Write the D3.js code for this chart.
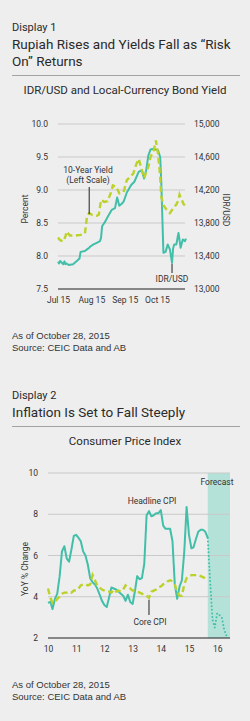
<!DOCTYPE html>
<html lang="en">
  <head>
    <meta charset="UTF-8" />
    <title>Rupiah and Inflation</title>
    <style>
      body {
        margin: 0;
        padding: 0;
        background-color: #eeeeee;
      }
      svg {
        display: block;
      }
      .head {
        font-family: Roboto, sans-serif;
        fill: #2a2a2a;
      }
      .axis text {
        font-family: Roboto, sans-serif;
        font-size: 8.5px;
        fill: #333;
      }
      .label {
        font-family: Roboto, sans-serif;
        font-size: 8.5px;
        fill: #333;
      }
      .note {
        font-family: "Liberation Sans", Arial, sans-serif;
        font-size: 9.5px;
        fill: #333;
      }
    </style>
  </head>
  <body>
    <svg id="page"></svg>

    <script src="https://d3js.org/d3.v7.min.js"></script>
    <script>
      // Display 1 data: 10-year yield (%) and IDR/USD
      const yieldPoints = [
        ["2015-07-01", 8.28], ["2015-07-03", 8.24], ["2015-07-06", 8.22],
        ["2015-07-08", 8.3], ["2015-07-09", 8.37], ["2015-07-12", 8.31],
        ["2015-07-17", 8.31], ["2015-07-22", 8.32], ["2015-07-26", 8.34],
        ["2015-07-28", 8.6], ["2015-07-30", 8.65], ["2015-08-02", 8.62],
        ["2015-08-06", 8.61], ["2015-08-08", 8.63], ["2015-08-10", 8.85],
        ["2015-08-13", 8.82], ["2015-08-16", 8.83], ["2015-08-19", 8.95],
        ["2015-08-21", 9.07], ["2015-08-24", 9.05], ["2015-08-27", 8.95],
        ["2015-08-31", 8.97], ["2015-09-03", 9.15], ["2015-09-06", 9.2],
        ["2015-09-09", 9.25], ["2015-09-12", 9.4], ["2015-09-14", 9.47],
        ["2015-09-17", 9.3], ["2015-09-19", 9.18], ["2015-09-23", 9.35],
        ["2015-09-25", 9.5], ["2015-09-28", 9.6], ["2015-09-30", 9.75],
        ["2015-10-02", 9.55], ["2015-10-04", 9.2], ["2015-10-05", 8.9],
        ["2015-10-07", 8.77], ["2015-10-10", 8.7], ["2015-10-13", 8.65],
        ["2015-10-16", 8.72], ["2015-10-19", 8.78], ["2015-10-21", 8.85],
        ["2015-10-22", 8.93], ["2015-10-24", 8.85], ["2015-10-26", 8.78],
        ["2015-10-28", 8.75]
      ];

      const idrPoints = [
        ["2015-07-01", 13330], ["2015-07-02", 13310], ["2015-07-03", 13340],
        ["2015-07-06", 13300], ["2015-07-07", 13335], ["2015-07-08", 13300],
        ["2015-07-09", 13310], ["2015-07-11", 13290], ["2015-07-15", 13300],
        ["2015-07-19", 13345], ["2015-07-21", 13370], ["2015-07-22", 13450],
        ["2015-07-26", 13460], ["2015-07-28", 13480], ["2015-07-30", 13500],
        ["2015-07-31", 13515], ["2015-08-03", 13540], ["2015-08-06", 13560],
        ["2015-08-09", 13580], ["2015-08-10", 13620], ["2015-08-11", 13760],
        ["2015-08-14", 13820], ["2015-08-16", 13870], ["2015-08-20", 13960],
        ["2015-08-23", 13980], ["2015-08-25", 14110], ["2015-08-27", 14010],
        ["2015-08-29", 14030], ["2015-08-31", 14060], ["2015-09-03", 14170],
        ["2015-09-07", 14260], ["2015-09-10", 14300], ["2015-09-14", 14420],
        ["2015-09-17", 14440], ["2015-09-19", 14340], ["2015-09-21", 14440],
        ["2015-09-23", 14620], ["2015-09-25", 14690], ["2015-09-28", 14700],
        ["2015-09-30", 14690], ["2015-10-02", 14680], ["2015-10-04", 14600],
        ["2015-10-05", 14300], ["2015-10-06", 13870], ["2015-10-07", 13440],
        ["2015-10-09", 13450], ["2015-10-11", 13540], ["2015-10-13", 13480],
        ["2015-10-15", 13320], ["2015-10-16", 13490], ["2015-10-17", 13540],
        ["2015-10-19", 13540], ["2015-10-21", 13680], ["2015-10-23", 13500],
        ["2015-10-25", 13600], ["2015-10-27", 13580], ["2015-10-28", 13610]
      ];

      const yieldTicks = [7.5, 8.0, 8.5, 9.0, 9.5, 10.0];
      const idrTicks = [13000, 13400, 13800, 14200, 14600, 15000];
      const monthTicks = ["2015-07-01", "2015-08-01", "2015-09-01", "2015-10-01"];

      // Display 2 data: monthly YoY CPI from Jan 2010 to Sep 2015
      const cpiStart = "2010-01-01";
      const headlineCpi = [
        3.7, 3.75, 3.4, 3.9, 4.15, 5.0, 6.2, 6.45, 5.85, 5.7, 6.3, 6.95,
        7.0, 6.85, 6.7, 6.2, 6.0, 5.55, 4.9, 4.7, 4.6, 4.4, 4.1, 3.8,
        3.6, 3.5, 3.95, 4.45, 4.4, 4.35, 4.25, 4.15, 4.05, 3.8, 4.1, 3.75,
        3.65, 4.3, 5.0, 4.85, 4.9, 5.6, 7.95, 8.15, 7.9, 7.95, 8.05, 8.05,
        8.2, 7.45, 7.3, 7.3, 7.3, 6.7, 4.6, 3.9, 4.5, 4.8, 6.2, 8.35,
        7.0, 6.35, 6.4, 6.8, 7.15, 7.25, 7.25, 7.15, 6.85
      ];
      const coreCpi = [
        4.4, 3.95, 3.7, 3.75, 3.9, 4.0, 4.15, 4.2, 4.2, 4.25, 4.2, 4.3,
        4.3, 4.4, 4.55, 4.6, 4.6, 4.55, 4.6, 5.05, 4.8, 4.55, 4.45, 4.35,
        4.3, 4.25, 4.25, 4.2, 4.35, 4.25, 4.3, 4.25, 4.35, 4.55, 4.45, 4.4,
        4.3, 4.3, 4.25, 4.2, 4.15, 4.1, 4.05, 3.95, 4.25, 4.3, 4.35, 4.45,
        4.5, 4.6, 4.65, 4.75, 4.8, 4.75, 4.6, 4.2, 4.05, 4.05, 4.6, 4.9,
        5.0, 5.05, 5.05, 5.05, 5.05, 5.0, 4.95, 4.9, 5.0
      ];
      // forecast path, monthly from Sep 2015
      const forecastStart = "2015-09-01";
      const forecastCpi = [6.85, 4.8, 2.9, 2.5, 3.2, 3.1, 3.0, 2.4, 2.1];
      const cpiTicks = [2, 4, 6, 8, 10];
      const yearTicks = [2010, 2011, 2012, 2013, 2014, 2015, 2016];

      const teal = "#41bfa9";
      const lime = "#bdd12b";
      const grid = "#c9c9c9";

      const parse = d3.timeParse("%Y-%m-%d");

      const svg = d3.select("#page").attr("width", 250).attr("height", 721);

      function header(top, label, titleLines, subtitle) {
        svg.append("text").attr("class", "head")
          .attr("x", 12).attr("y", top)
          .style("font-size", "11px")
          .text(label);
        titleLines.forEach(function (t, i) {
          svg.append("text").attr("class", "head")
            .attr("x", 12).attr("y", top + 18 + i * 17)
            .style("font-size", "13.5px")
            .text(t);
        });
        const lineY = top + 18 + (titleLines.length - 1) * 17 + 9.5;
        svg.append("line")
          .attr("x1", 12).attr("x2", 240)
          .attr("y1", lineY).attr("y2", lineY)
          .attr("stroke", "#a3a3a3").attr("stroke-width", 1);
        svg.append("text").attr("class", "head")
          .attr("x", 125).attr("y", lineY + 18)
          .attr("text-anchor", "middle")
          .style("font-size", "11.5px")
          .text(subtitle);
      }

      function footer(top) {
        svg.append("text").attr("class", "note")
          .attr("x", 12).attr("y", top).text("As of October 28, 2015");
        svg.append("text").attr("class", "note")
          .attr("x", 12).attr("y", top + 12).text("Source: CEIC Data and AB");
      }

      // ---------- Display 1 ----------
      header(31, "Display 1", ["Rupiah Rises and Yields Fall as \u201cRisk", "On\u201d Returns"],
        "IDR/USD and Local-Currency Bond Yield");

      const x1 = d3.scaleTime()
        .domain([parse("2015-07-01"), parse("2015-10-28")])
        .range([58, 186]);
      const yL = d3.scaleLinear().domain([7.5, 10]).range([289, 124]);
      const yR = d3.scaleLinear().domain([13000, 15000]).range([289, 124]);

      const g1 = svg.append("g");

      g1.selectAll(".grid")
        .data(yieldTicks.slice(1))
        .enter().append("line")
        .attr("x1", 58).attr("x2", 185)
        .attr("y1", (d) => yL(d)).attr("y2", (d) => yL(d))
        .attr("stroke", grid).attr("stroke-width", 1);

      g1.append("line")
        .attr("x1", 58).attr("x2", 185)
        .attr("y1", yL(7.5)).attr("y2", yL(7.5))
        .attr("stroke", "#1e1e1e").attr("stroke-width", 1.2);

      const leftAxis = g1.append("g").attr("class", "axis")
        .attr("transform", "translate(58,0)")
        .call(d3.axisLeft(yL).tickValues(yieldTicks).tickFormat(d3.format(".1f")).tickSize(0).tickPadding(10));
      leftAxis.select(".domain").remove();

      const rightAxis = g1.append("g").attr("class", "axis")
        .attr("transform", "translate(185,0)")
        .call(d3.axisRight(yR).tickValues(idrTicks).tickFormat(d3.format(",")).tickSize(0).tickPadding(9));
      rightAxis.select(".domain").remove();

      const bottom1 = g1.append("g").attr("class", "axis")
        .attr("transform", "translate(0,289)")
        .call(d3.axisBottom(x1).tickValues(monthTicks.map(parse)).tickFormat(d3.timeFormat("%b %y")).tickSize(0).tickPadding(8));
      bottom1.select(".domain").remove();

      g1.append("text").attr("class", "label")
        .attr("transform", "translate(28,209) rotate(-90)")
        .attr("text-anchor", "middle").text("Percent");
      g1.append("text").attr("class", "label")
        .attr("transform", "translate(223,210) rotate(90)")
        .attr("text-anchor", "middle").text("IDR/USD");

      const idrLine = d3.line().x((d) => x1(parse(d[0]))).y((d) => yR(d[1]));
      const yieldLine = d3.line().x((d) => x1(parse(d[0]))).y((d) => yL(d[1]));

      g1.append("path").datum(idrPoints)
        .attr("d", idrLine)
        .attr("fill", "none").attr("stroke", teal)
        .attr("stroke-width", 2).attr("stroke-linejoin", "round");

      g1.append("path").datum(yieldPoints)
        .attr("d", yieldLine)
        .attr("fill", "none").attr("stroke", lime)
        .attr("stroke-width", 2.4).attr("stroke-dasharray", "6,3.5");

      // yield callout
      const yAnchor = yieldPoints[10];
      g1.append("line")
        .attr("x1", x1(parse(yAnchor[0]))).attr("x2", x1(parse(yAnchor[0])))
        .attr("y1", 187).attr("y2", yL(yAnchor[1]) + 1)
        .attr("stroke", "#222").attr("stroke-width", 1);
      g1.append("text").attr("class", "label")
        .attr("x", 88).attr("y", 173).attr("text-anchor", "middle").text("10-Year Yield");
      g1.append("text").attr("class", "label")
        .attr("x", 88).attr("y", 183).attr("text-anchor", "middle").text("(Left Scale)");

      // IDR callout
      const iAnchor = idrPoints[48];
      g1.append("line")
        .attr("x1", x1(parse(iAnchor[0]))).attr("x2", x1(parse(iAnchor[0])))
        .attr("y1", yR(iAnchor[1]) + 1).attr("y2", 273)
        .attr("stroke", "#222").attr("stroke-width", 1);
      g1.append("text").attr("class", "label")
        .attr("x", 172).attr("y", 282).attr("text-anchor", "middle").text("IDR/USD");

      footer(339);

      // ---------- Display 2 ----------
      header(399, "Display 2", ["Inflation Is Set to Fall Steeply"], "Consumer Price Index");

      const x2 = d3.scaleTime()
        .domain([new Date(2010, 0, 1), new Date(2016, 5, 15)])
        .range([48, 230]);
      const y2 = d3.scaleLinear().domain([2, 10]).range([638, 473]);

      const g2 = svg.append("g");

      const f0 = parse(forecastStart);
      g2.append("rect")
        .attr("x", x2(f0)).attr("y", y2(10))
        .attr("width", 230 - x2(f0)).attr("height", y2(2) - y2(10))
        .attr("fill", "#b5e2d8");

      g2.selectAll(".grid")
        .data(cpiTicks.slice(1))
        .enter().append("line")
        .attr("x1", 48).attr("x2", 230)
        .attr("y1", (d) => y2(d)).attr("y2", (d) => y2(d))
        .attr("stroke", grid).attr("stroke-width", 1);

      g2.append("line")
        .attr("x1", 48).attr("x2", 230)
        .attr("y1", y2(2)).attr("y2", y2(2))
        .attr("stroke", "#1e1e1e").attr("stroke-width", 1.2);

      const left2 = g2.append("g").attr("class", "axis")
        .attr("transform", "translate(48,0)")
        .call(d3.axisLeft(y2).tickValues(cpiTicks).tickFormat(d3.format("d")).tickSize(0).tickPadding(10));
      left2.select(".domain").remove();

      const bottom2 = g2.append("g").attr("class", "axis")
        .attr("transform", "translate(0,638)")
        .call(d3.axisBottom(x2).tickValues(yearTicks.map((y) => new Date(y, 0, 1))).tickFormat(d3.timeFormat("%y")).tickSize(0).tickPadding(8));
      bottom2.select(".domain").remove();

      g2.append("text").attr("class", "label")
        .attr("transform", "translate(28,569) rotate(-90)")
        .attr("text-anchor", "middle").text("YoY % Change");

      g2.append("text").attr("class", "label")
        .attr("x", 217).attr("y", 485).attr("text-anchor", "middle").text("Forecast");

      const c0 = parse(cpiStart);
      const monthLine = function (start) {
        return d3.line()
          .x((d, i) => x2(d3.timeMonth.offset(start, i)))
          .y((d) => y2(d));
      };

      g2.append("path").datum(headlineCpi)
        .attr("d", monthLine(c0))
        .attr("fill", "none").attr("stroke", teal)
        .attr("stroke-width", 2).attr("stroke-linejoin", "round");

      g2.append("path").datum(forecastCpi)
        .attr("d", monthLine(f0))
        .attr("fill", "none").attr("stroke", teal)
        .attr("stroke-width", 2).attr("stroke-linecap", "round")
        .attr("stroke-dasharray", "0,3.6");

      g2.append("path").datum(coreCpi)
        .attr("d", monthLine(c0))
        .attr("fill", "none").attr("stroke", lime)
        .attr("stroke-width", 2.4).attr("stroke-dasharray", "6,3.5");

      g2.append("text").attr("class", "label")
        .attr("x", 152).attr("y", 504).attr("text-anchor", "middle").text("Headline CPI");

      const coreIdx = 43;
      const cx = x2(d3.timeMonth.offset(c0, coreIdx));
      g2.append("line")
        .attr("x1", cx).attr("x2", cx)
        .attr("y1", y2(coreCpi[coreIdx]) + 2).attr("y2", 615)
        .attr("stroke", "#222").attr("stroke-width", 1);
      g2.append("text").attr("class", "label")
        .attr("x", 150).attr("y", 625).attr("text-anchor", "middle").text("Core CPI");

      footer(688);
    </script>
  </body>
</html>
